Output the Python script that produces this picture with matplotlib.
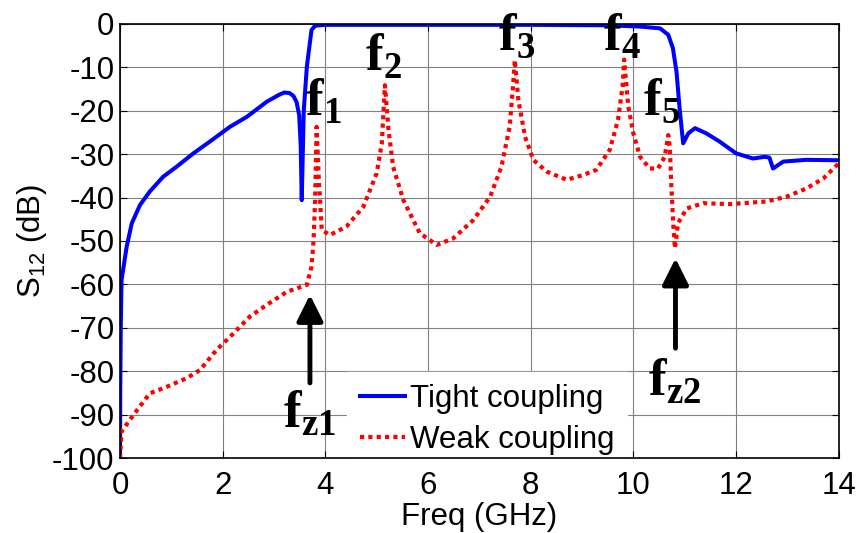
import matplotlib
matplotlib.use('Agg')
import matplotlib.pyplot as plt

plt.rcParams['font.family'] = ['Liberation Sans', 'DejaVu Sans']
plt.rcParams['mathtext.fontset'] = 'custom'
plt.rcParams['mathtext.rm'] = 'Liberation Sans'
plt.rcParams['mathtext.bf'] = 'Liberation Serif:bold'
plt.rcParams['axes.unicode_minus'] = False

# tight coupling (blue)
tight_f = [0.0, 0.005, 0.015, 0.03, 0.13, 0.23, 0.39, 0.58, 0.84, 1.1, 1.43, 1.75, 2.14, 2.47,
           2.86, 3.1, 3.2, 3.3, 3.38, 3.44, 3.49, 3.52, 3.54, 3.56, 3.58, 3.64, 3.73, 3.8,
           4.0, 6.0, 8.0, 9.5, 10.13, 10.52, 10.68, 10.77, 10.84, 10.9, 10.97, 11.07, 11.2,
           11.42, 11.68, 12.0, 12.33, 12.56, 12.65, 12.72, 12.92, 13.37, 14.0]
tight_db = [-100, -85, -70, -59, -51.3, -45.9, -41.7, -38.6, -35.2, -32.9, -29.8, -27.1, -23.7, -21.4,
            -17.9, -16.3, -15.8, -15.9, -16.6, -18.0, -21.0, -28.0, -40.6, -30.0, -19.8, -9.8, -1.4, -0.4,
            -0.2, -0.2, -0.2, -0.3, -0.6, -1.0, -2.5, -5.6, -11.0, -19.4, -27.5, -25.2, -24.0,
            -25.2, -27.1, -29.8, -31.0, -30.6, -30.8, -33.3, -31.7, -31.3, -31.4]

# weak coupling (red dotted)
weak_f = [0.0, 0.03, 0.26, 0.58, 0.91, 1.3, 1.56, 1.88, 2.21, 2.53, 2.86, 3.25, 3.64, 3.73,
          3.77, 3.8, 3.83, 3.87, 3.93, 4.09, 4.41, 4.74, 5.0, 5.1, 5.16, 5.23, 5.32, 5.52,
          5.84, 6.17, 6.49, 6.88, 7.21, 7.43, 7.59, 7.66, 7.69, 7.76, 7.89, 8.05, 8.31, 8.7,
          9.02, 9.28, 9.54, 9.7, 9.79, 9.82, 9.9, 10.0, 10.13, 10.32, 10.48, 10.61, 10.68,
          10.71, 10.74, 10.78, 10.81, 10.87, 11.04, 11.36, 11.88, 12.59, 12.98, 13.37, 13.7, 14.0]
weak_db = [-100, -93.9, -90.1, -85.1, -83.6, -81.6, -79.7, -75.1, -71.3, -67.4, -64.7, -61.7, -60.1, -55.9,
           -50, -40.6, -23.7, -35, -47.5, -48.6, -46.7, -42.1, -34.4, -27.5, -14.1, -24.4, -32.9, -40.6,
           -48.2, -50.9, -49.4, -45.2, -39.8, -32.9, -23.7, -13.7, -8.3, -17.5, -26.0, -31.3, -34.0, -35.9,
           -34.8, -33.6, -29.0, -22.1, -14.4, -8.2, -19.0, -25.2, -30.6, -33.3, -33.3, -30.6, -25.6,
           -28.3, -37.5, -46.7, -51.7, -45.9, -42.5, -41.3, -41.5, -40.9, -39.8, -37.9, -35.6, -32.1]

peak_labels = ['1', '2', '3', '4', '5']
peak_pos = [(3.6, -21), (4.77, -10.6), (7.36, -6), (9.41, -6), (10.19, -21)]
zero_labels = ['z1', 'z2']
zero_text_pos = [(3.17, -93), (10.28, -85.5)]
zero_arrows = [((3.7, -82.7), (3.7, -62.4)), ((10.82, -74.7), (10.82, -54))]

fs = 22.5

fig = plt.figure(figsize=(8.59, 5.33), dpi=100)
ax = fig.add_axes([0.1397, 0.1407, 0.8367, 0.8143])

ax.plot(tight_f, tight_db, color='#0000ff', lw=2.9, label='Tight coupling')
ax.plot(weak_f, weak_db, color='#ff0000', lw=3, linestyle=(0, (1, 1)), label='Weak coupling')

ax.set_xlim(0, 14)
ax.set_ylim(-100, 0)
ax.set_xticks(range(0, 15, 2))
ax.set_yticks(range(-100, 1, 10))
ax.grid(True, color='0.5', lw=0.8)
ax.tick_params(direction='in', top=True, right=True, labelsize=fs, length=5, width=0.8, pad=4)
ax.tick_params(axis='x', pad=9)
for s in ax.spines.values():
    s.set_linewidth(1.2)
    s.set_zorder(6)
ax.set_xlabel('Freq (GHz)', fontsize=fs, labelpad=1)
ax.set_ylabel(r'S$_{\mathrm{12}}$ (dB)', fontsize=fs, labelpad=2)

for lab, (x, y) in zip(peak_labels, peak_pos):
    ax.text(x, y, r'$\mathbf{f}_{\mathbf{%s}}$' % lab, fontsize=38, ha='left', va='baseline')
for lab, (x, y) in zip(zero_labels, zero_text_pos):
    ax.text(x, y, r'$\mathbf{f}_{\mathbf{%s}}$' % lab, fontsize=38, ha='left', va='baseline')
for (start, end) in zero_arrows:
    ax.annotate('', xy=end, xytext=start,
                arrowprops=dict(arrowstyle='-|>,head_length=0.8,head_width=0.4',
                                lw=3.5, color='k', mutation_scale=20, shrinkA=0, shrinkB=0))

leg = ax.legend(loc='lower left', bbox_to_anchor=(0.316, -0.022), fontsize=fs,
                handlelength=1.44, handletextpad=0.16, labelspacing=0.34,
                borderpad=0.4, borderaxespad=0, frameon=True, fancybox=False)
leg.get_frame().set_edgecolor('white')
leg.get_frame().set_alpha(1)

fig.savefig('out.png', dpi=100)
